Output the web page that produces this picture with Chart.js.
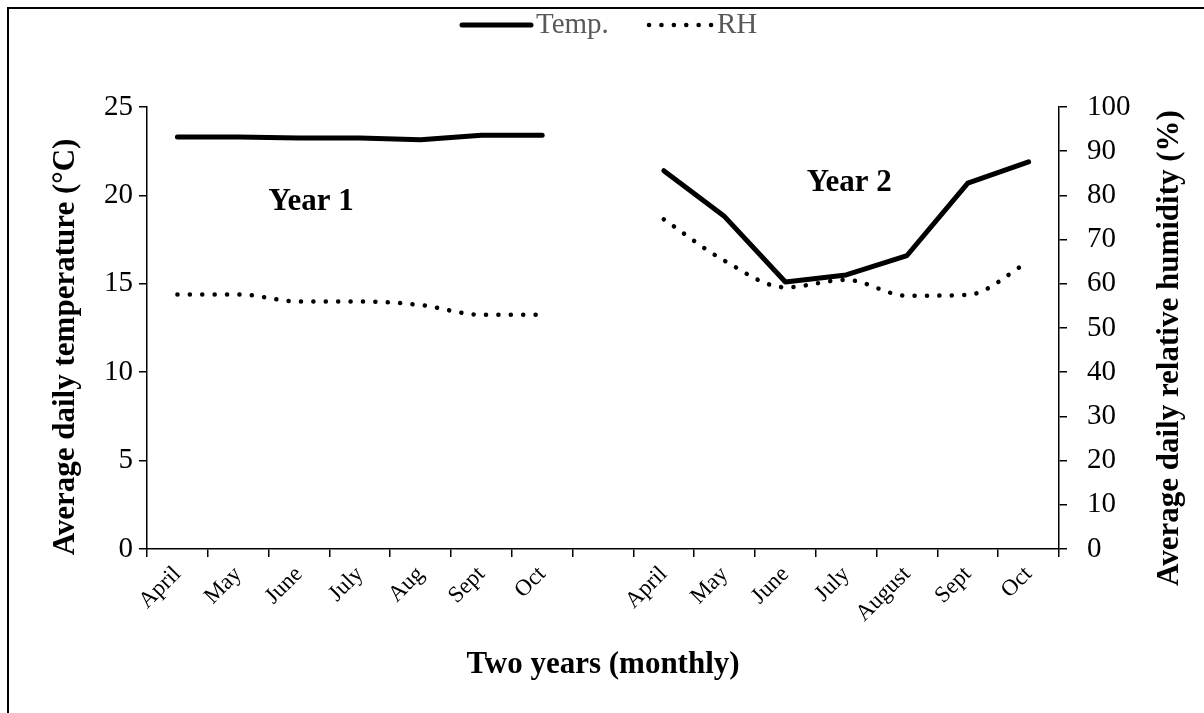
<!DOCTYPE html>
<html>
<head>
<meta charset="utf-8">
<script src="https://cdn.jsdelivr.net/npm/chart.js@4/dist/chart.umd.min.js"></script>
<style>
  html, body { margin: 0; padding: 0; background: #ffffff; }
  #wrap { width: 1204px; height: 713px; }
</style>
</head>
<body>
<div id="wrap"><canvas id="c" width="1204" height="713"></canvas></div>
<script>
// Months of two seasons, separated by one empty slot
const months = ['April', 'May', 'June', 'July', 'Aug', 'Sept', 'Oct', '',
                'April', 'May', 'June', 'July', 'August', 'Sept', 'Oct'];

// Average daily temperature (°C)
const tempValues = [23.3, 23.3, 23.25, 23.25, 23.15, 23.4, 23.4, null,
                    21.4, 18.8, 15.1, 15.5, 16.6, 20.7, 21.9];

// Average daily relative humidity (%)
const rhValues = [57.6, 57.6, 56.0, 56.0, 55.2, 53.0, 53.0, null,
                  74.6, 65.2, 59.2, 60.9, 57.3, 57.5, 65.0];

const tempTicks = [0, 5, 10, 15, 20, 25];
const rhTicks = [0, 10, 20, 30, 40, 50, 60, 70, 80, 90, 100];

const yearLabels = ['Year 1', 'Year 2'];
const yearAnchors = [{ x: 2.2, y: 19.6 }, { x: 11.05, y: 20.7 }];

const SERIF = '"Liberation Serif", "Times New Roman", serif';

const decorations = {
  id: 'decorations',
  beforeDraw(chart) {
    const ctx = chart.ctx;
    ctx.save();
    ctx.fillStyle = '#ffffff';
    ctx.fillRect(0, 0, chart.width, chart.height);
    ctx.fillStyle = '#000000';
    ctx.fillRect(7, 7, 2, chart.height);
    ctx.fillRect(7, 7, chart.width, 2);
    ctx.restore();
  },
  afterDraw(chart) {
    const ctx = chart.ctx;
    const { x, y } = chart.scales;
    const area = chart.chartArea;
    ctx.save();

    // legend
    const ly = 25;
    ctx.strokeStyle = '#000000';
    ctx.lineWidth = 5;
    ctx.lineCap = 'round';
    ctx.beginPath();
    ctx.moveTo(462, ly);
    ctx.lineTo(531, ly);
    ctx.stroke();
    ctx.lineWidth = 4.5;
    ctx.setLineDash([0.1, 12.3]);
    ctx.beginPath();
    ctx.moveTo(649, ly);
    ctx.lineTo(713, ly);
    ctx.stroke();
    ctx.setLineDash([]);
    ctx.fillStyle = '#595959';
    ctx.font = '29px ' + SERIF;
    ctx.textBaseline = 'middle';
    ctx.textAlign = 'left';
    ctx.fillText('Temp.', 536, ly);
    ctx.fillText('RH', 717, ly);

    // season labels
    ctx.fillStyle = '#000000';
    ctx.font = 'bold 31px ' + SERIF;
    ctx.textAlign = 'center';
    yearLabels.forEach((t, i) => {
      ctx.fillText(t, x.getPixelForValue(yearAnchors[i].x), y.getPixelForValue(yearAnchors[i].y));
    });

    // axis titles
    ctx.font = 'bold 31px ' + SERIF;
    ctx.fillText('Two years (monthly)', (area.left + area.right) / 2, 665);

    ctx.save();
    ctx.translate(66, 347);
    ctx.rotate(-Math.PI / 2);
    ctx.fillText('Average daily temperature (°C)', 0, 0);
    ctx.restore();

    ctx.save();
    ctx.translate(1170, 348);
    ctx.rotate(-Math.PI / 2);
    ctx.fillText('Average daily relative humidity (%)', 0, 0);
    ctx.restore();

    ctx.restore();
  }
};

new Chart(document.getElementById('c'), {
  type: 'line',
  data: {
    labels: months,
    datasets: [
      {
        label: 'Temp.',
        data: tempValues,
        yAxisID: 'y',
        borderColor: '#000000',
        backgroundColor: '#000000',
        borderWidth: 5,
        pointRadius: 0,
        tension: 0,
        spanGaps: false,
        borderJoinStyle: 'round',
        borderCapStyle: 'round'
      },
      {
        label: 'RH',
        data: rhValues,
        yAxisID: 'y1',
        borderColor: '#000000',
        backgroundColor: '#000000',
        borderWidth: 4.5,
        borderDash: [0.1, 12.3],
        borderCapStyle: 'round',
        pointRadius: 0,
        cubicInterpolationMode: 'monotone',
        spanGaps: false
      }
    ]
  },
  options: {
    responsive: false,
    animation: false,
    layout: { padding: { top: 107, left: 0, right: 0, bottom: 0 } },
    plugins: {
      legend: { display: false },
      tooltip: { enabled: false }
    },
    scales: {
      x: {
        type: 'category',
        offset: true,
        afterFit(s) { s.height = 713 - 549; },
        grid: {
          offset: true,
          drawOnChartArea: false,
          drawTicks: true,
          tickLength: 8,
          color: '#000000',
          lineWidth: 1.5
        },
        border: { color: '#000000', width: 1.5 },
        ticks: {
          autoSkip: false,
          minRotation: 45,
          maxRotation: 45,
          color: '#000000',
          padding: 4,
          font: { family: SERIF, size: 23 }
        }
      },
      y: {
        position: 'left',
        min: 0,
        max: 25,
        afterFit(s) { s.width = 147; },
        afterBuildTicks(s) { s.ticks = tempTicks.map(v => ({ value: v })); },
        grid: {
          drawOnChartArea: false,
          tickLength: 8,
          color: '#000000',
          lineWidth: 1.5
        },
        border: { color: '#000000', width: 1.5 },
        ticks: {
          color: '#000000',
          padding: 6,
          font: { family: SERIF, size: 29 }
        }
      },
      y1: {
        position: 'right',
        min: 0,
        max: 100,
        afterFit(s) { s.width = 1204 - 1059; },
        afterBuildTicks(s) { s.ticks = rhTicks.map(v => ({ value: v })); },
        grid: {
          drawOnChartArea: false,
          tickLength: 8,
          color: '#000000',
          lineWidth: 1.5
        },
        border: { color: '#000000', width: 1.5 },
        ticks: {
          color: '#000000',
          padding: 20,
          font: { family: SERIF, size: 29 }
        }
      }
    }
  },
  plugins: [decorations]
});
</script>
</body>
</html>
